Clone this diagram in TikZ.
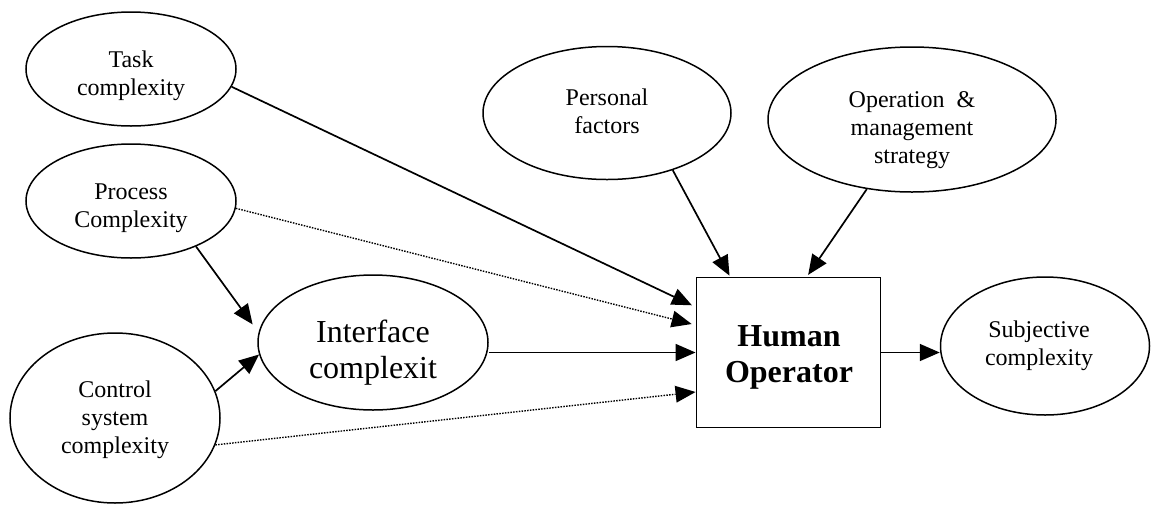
\documentclass[tikz,border=0pt]{standalone}
\usepackage{fontspec}
\setmainfont{Liberation Serif}
\usetikzlibrary{shapes.geometric,arrows.meta}

\begin{document}
\begin{tikzpicture}[x=1pt,y=-1pt,
  oval/.style={draw, ellipse, line width=1.5pt, inner sep=0pt},
  txt/.style={inner sep=0pt, align=center, font=\fontsize{24}{28}\selectfont},
  bigtxt/.style={inner sep=0pt, align=center, font=\fontsize{32}{36}\selectfont},
  link/.style={line width=1.7pt, -{Triangle[length=20pt,width=17pt]}},
  weak/.style={line width=1.4pt, dash pattern=on 1.5pt off 1.3pt,
               -{Triangle[length=20pt,width=17pt,line width=0pt]}}
]
\useasboundingbox (0,0) rectangle (1151,504);

% influencing factors
\node[oval, minimum width=210pt, minimum height=114pt] (task) at (131,69) {};
\node[oval, minimum width=210pt, minimum height=114pt] (proc) at (131,201) {};
\node[oval, minimum width=210pt, minimum height=170pt] (ctrl) at (115,418) {};
\node[oval, minimum width=230pt, minimum height=135pt] (ic)   at (373,342.5) {};
\node[oval, minimum width=248pt, minimum height=133pt] (pers) at (607,113) {};
\node[oval, minimum width=288pt, minimum height=145pt] (op)   at (912,119.5) {};
\node[oval, minimum width=209pt, minimum height=138pt] (subj) at (1045,346) {};
\node[draw, rectangle, line width=1.9pt, minimum width=184pt, minimum height=150pt,
      inner sep=0pt] (box) at (788.5,352.5) {};

% labels
\node[txt] (taskT) at (131,75.4)   {Task\\complexity};
\node[txt] (procT) at (131,208.6)  {Process\\Complexity};
\node[txt] (ctrlT) at (115,419.4)  {Control\\system\\complexity};
\node[bigtxt] (icT) at (373,352.5) {Interface\\complexit};
\node[txt] (persT) at (607,111.5)  {Personal\\factors};
\node[txt] (opT)   at (912,129.9)  {Operation~\ \&\\management\\strategy};
\node[txt] (subjT) at (1039,345.4) {Subjective\\complexity};
\node[bigtxt, font=\fontsize{32}{36}\selectfont\bfseries] (boxT) at (789,357.9) {Human\\Operator};

% connectors
\draw[link, shorten >=4pt] (task.-10) -- ([yshift=45.5pt]box.west);
\draw[weak, shorten >=4pt] (proc.-4) -- ([yshift=27.5pt]box.west);
\draw[link] (ic.east |- box.west) -- (box.west);
\draw[weak] (ctrl.-15) -- ([yshift=-39.5pt]box.west);
\draw[link, shorten >=1pt] (pers.-41) -- ([xshift=-58.5pt]box.north);
\draw[link, shorten >=2pt] (op.-123) -- ([xshift=18.5pt]box.north);
\draw[link] (box.east) -- (box.east -| subj.west);
\draw[link, shorten >=10pt] (proc.-35) -- (ic.175);
\draw[link] (ctrl.15) -- (ic.186);
\end{tikzpicture}
\end{document}
